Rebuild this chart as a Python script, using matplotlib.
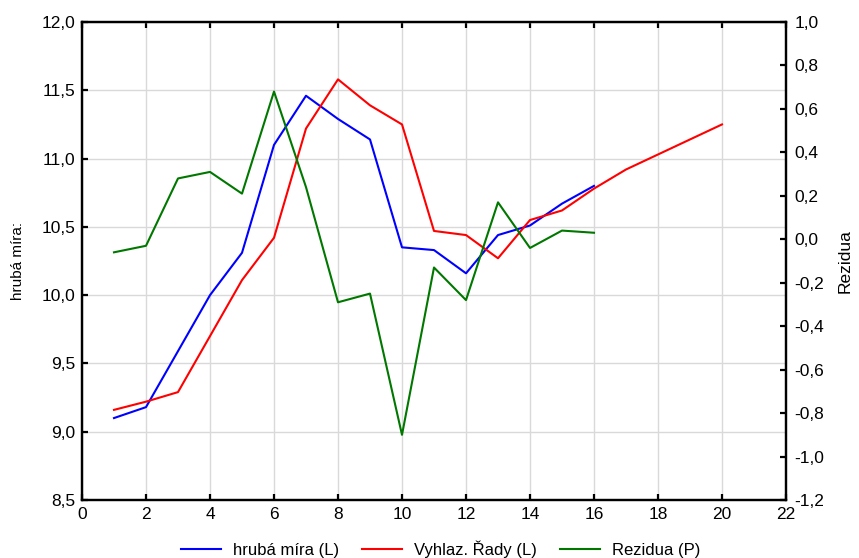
import matplotlib
matplotlib.use("Agg")
import matplotlib.pyplot as plt
from matplotlib.ticker import FuncFormatter, MultipleLocator

plt.rcParams['font.family'] = ['Liberation Sans', 'DejaVu Sans']

# data
t_obs = [1, 2, 3, 4, 5, 6, 7, 8, 9, 10, 11, 12, 13, 14, 15, 16]
hruba_mira = [9.10, 9.18, 9.59, 10.00, 10.31, 11.10, 11.46, 11.29, 11.14,
              10.35, 10.33, 10.16, 10.44, 10.51, 10.67, 10.80]

t_smooth = [1, 2, 3, 4, 5, 6, 7, 8, 9, 10, 11, 12, 13, 14, 15, 16, 17, 18, 19, 20]
vyhlazeni = [9.16, 9.22, 9.29, 9.70, 10.11, 10.42, 11.22, 11.58, 11.39, 11.25,
             10.47, 10.44, 10.27, 10.55, 10.62, 10.78, 10.92, 11.03, 11.14, 11.25]

rezidua = [-0.06, -0.03, 0.28, 0.31, 0.21, 0.68, 0.24, -0.29, -0.25, -0.90,
           -0.13, -0.28, 0.17, -0.04, 0.04, 0.03]


def comma(v, fmt='%.1f'):
    return (fmt % (v + 0.0)).replace('.', ',')


fig = plt.figure(figsize=(8.59, 5.58), dpi=100)
ax = fig.add_axes([82 / 859, 1 - 500 / 558, 704 / 859, 478 / 558])
ax2 = ax.twinx()

l1, = ax.plot(t_obs, hruba_mira, color='#0000ff', lw=1.5, label='hrubá míra (L)')
l2, = ax.plot(t_smooth, vyhlazeni, color='#ff0000', lw=1.5, label='Vyhlaz. Řady (L)')
l3, = ax2.plot(t_obs, rezidua, color='#007800', lw=1.5, label='Rezidua (P)')

ax.set_xlim(0, 22)
ax.set_ylim(8.5, 12.0)
ax2.set_ylim(-1.2, 1.0)
ax.xaxis.set_major_locator(MultipleLocator(2))
ax.yaxis.set_major_locator(MultipleLocator(0.5))
ax2.yaxis.set_major_locator(MultipleLocator(0.2))
ax.xaxis.set_major_formatter(FuncFormatter(lambda v, p: '%d' % v))
ax.yaxis.set_major_formatter(FuncFormatter(lambda v, p: comma(v)))
ax2.yaxis.set_major_formatter(FuncFormatter(lambda v, p: comma(v)))

ax.grid(True, color='#d9d9d9', lw=1)
ax.set_axisbelow(True)

for a in (ax, ax2):
    for s in a.spines.values():
        s.set_linewidth(1.6)
        s.set_color('black')
ax.tick_params(axis='both', direction='in', length=4, width=1.6, labelsize=12.5,
               top=True, pad=5)
ax2.tick_params(axis='y', direction='in', length=4, width=1.6, labelsize=12.5, pad=6)

ax.set_ylabel('hrubá míra:', fontsize=11, labelpad=12)
ax2.set_ylabel('Rezidua', fontsize=12.5, labelpad=10)

fig.legend(handles=[l1, l2, l3], loc='lower center', ncol=3, frameon=False,
           fontsize=12, bbox_to_anchor=(0.513, -0.026), handlelength=2.4,
           columnspacing=1.4, handletextpad=0.7)

fig.savefig('out.png', dpi=100)
